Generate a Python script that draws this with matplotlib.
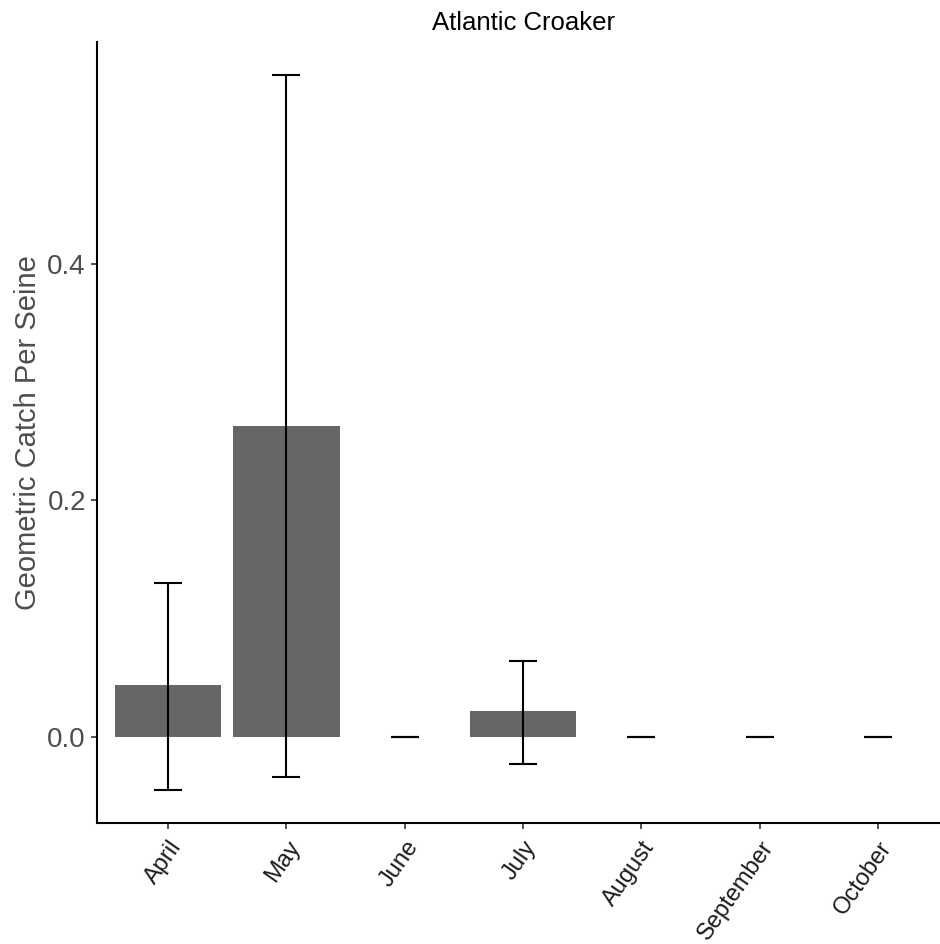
import matplotlib
matplotlib.use("Agg")
import matplotlib.pyplot as plt
import numpy as np

plt.rcParams['font.family'] = ['Liberation Sans', 'DejaVu Sans']

months = ["April", "May", "June", "July", "August", "September", "October"]
mean_cps = [0.044, 0.263, 0.0, 0.022, 0.0, 0.0, 0.0]
ci_upper = [0.130, 0.560, 0.0, 0.064, 0.0, 0.0, 0.0]
ci_lower = [-0.045, -0.034, 0.0, -0.023, 0.0, 0.0, 0.0]

fig = plt.figure(figsize=(9.4, 9.44), dpi=100)
ax = fig.add_axes([0.1032, 0.1282, 0.9064, 0.8273])

x = np.arange(len(months))
mean = np.array(mean_cps)
err = np.vstack([mean - np.array(ci_lower), np.array(ci_upper) - mean])

ax.bar(x, mean, width=0.9, color="#666666", zorder=1)
ax.errorbar(x, mean, yerr=err, fmt="none", ecolor="black", elinewidth=1.5,
            capsize=10, capthick=1.5, zorder=2)

ax.set_xlim(-0.6, 6.6)
ax.set_ylim(-0.0727, 0.5877)
ax.set_yticks([0.0, 0.2, 0.4])
ax.set_yticklabels(["0.0", "0.2", "0.4"])
ax.set_xticks(x)
ax.set_xticklabels(months, rotation=55, ha="right", va="top", rotation_mode="anchor")

for s in ["top", "right"]:
    ax.spines[s].set_visible(False)
for s in ["left", "bottom"]:
    ax.spines[s].set_linewidth(1.5)
    ax.spines[s].set_color("black")

ax.tick_params(axis="both", colors="#333333", length=4, width=1.2)
ax.tick_params(axis="x", pad=6, labelsize=17, labelcolor="#1a1a1a")
ax.tick_params(axis="y", pad=4, labelsize=20, labelcolor="#4d4d4d")

ax.set_ylabel("Geometric Catch Per Seine", fontsize=21, color="#4d4d4d", labelpad=4)
ax.set_title("Atlantic Croaker", fontsize=18.5, color="black", pad=9)

fig.savefig("out.png", dpi=100)
